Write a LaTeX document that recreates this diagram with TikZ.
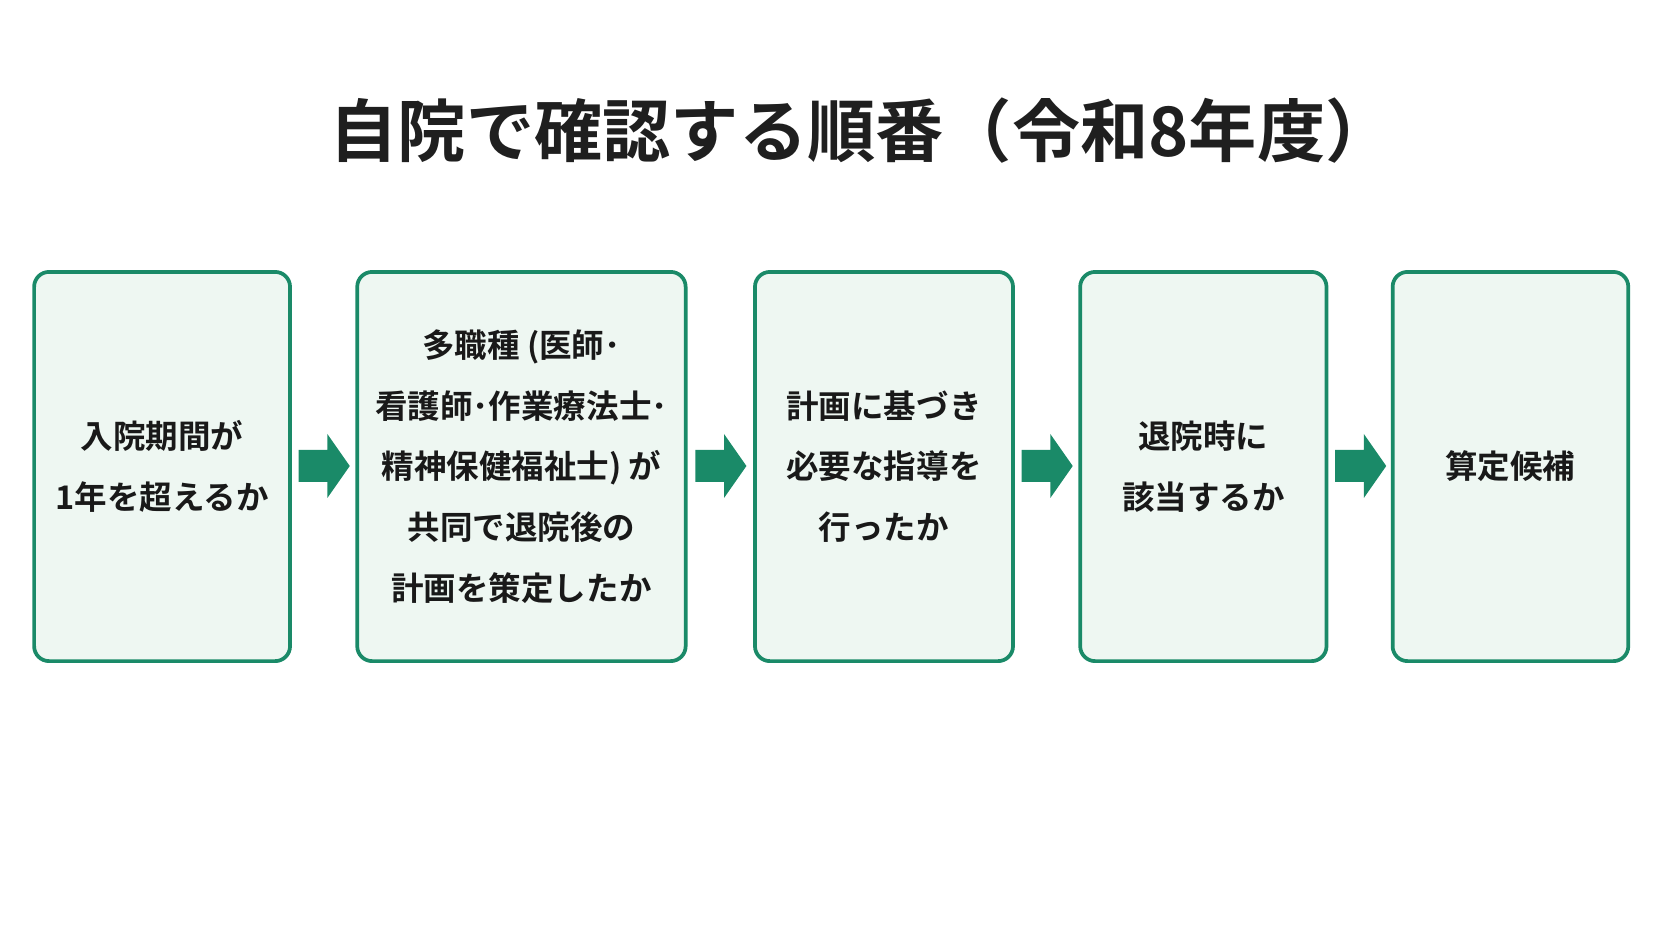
\documentclass[tikz,border=0pt]{standalone}
\usepackage{fontspec}
\newfontfamily\cjk{Noto Sans CJK JP Bold}
\definecolor{grn}{HTML}{1A8A68}
\definecolor{bg}{HTML}{EEF7F2}
\begin{document}
\begin{tikzpicture}[x=1pt,y=-1pt,
  box/.style={draw=grn,line width=3.5pt,fill=bg,rounded corners=14pt,align=center,
    font=\cjk\fontsize{30.5}{57}\selectfont,text=black!90,inner sep=0pt},
  arr/.style={fill=grn}]
\useasboundingbox (0,0) rectangle (1568,882);
\node[font=\cjk\fontsize{64}{70}\selectfont,text=black!88] (title) at (808,122) {自院で確認する順番（令和8年度）};
\node[box,minimum width=240pt,minimum height=365pt] (b1) at (152,437.5) {入院期間が\\1年を超えるか};
\node[box,minimum width=308pt,minimum height=365pt] (b2) at (489,437.5) {多職種 (医師･\\看護師･作業療法士･\\精神保健福祉士) が\\共同で退院後の\\計画を策定したか};
\node[box,minimum width=242pt,minimum height=365pt] (b3) at (829,437.5) {計画に基づき\\必要な指導を\\行ったか};
\node[box,minimum width=231pt,minimum height=365pt] (b4) at (1128.5,437.5) {退院時に\\該当するか};
\node[box,minimum width=221pt,minimum height=365pt] (b5) at (1416.5,437.5) {算定候補};
\foreach \n/\x in {a1/304,a2/676,a3/982,a4/1276}{
  \coordinate (\n) at (\x,437);
  \fill[arr] (\n) ++(-24,-15) -- ++(27,0) -- ++(0,-15) -- ++(21,30) -- ++(-21,30) -- ++(0,-15) -- ++(-27,0) -- cycle;
}
\end{tikzpicture}
\end{document}
